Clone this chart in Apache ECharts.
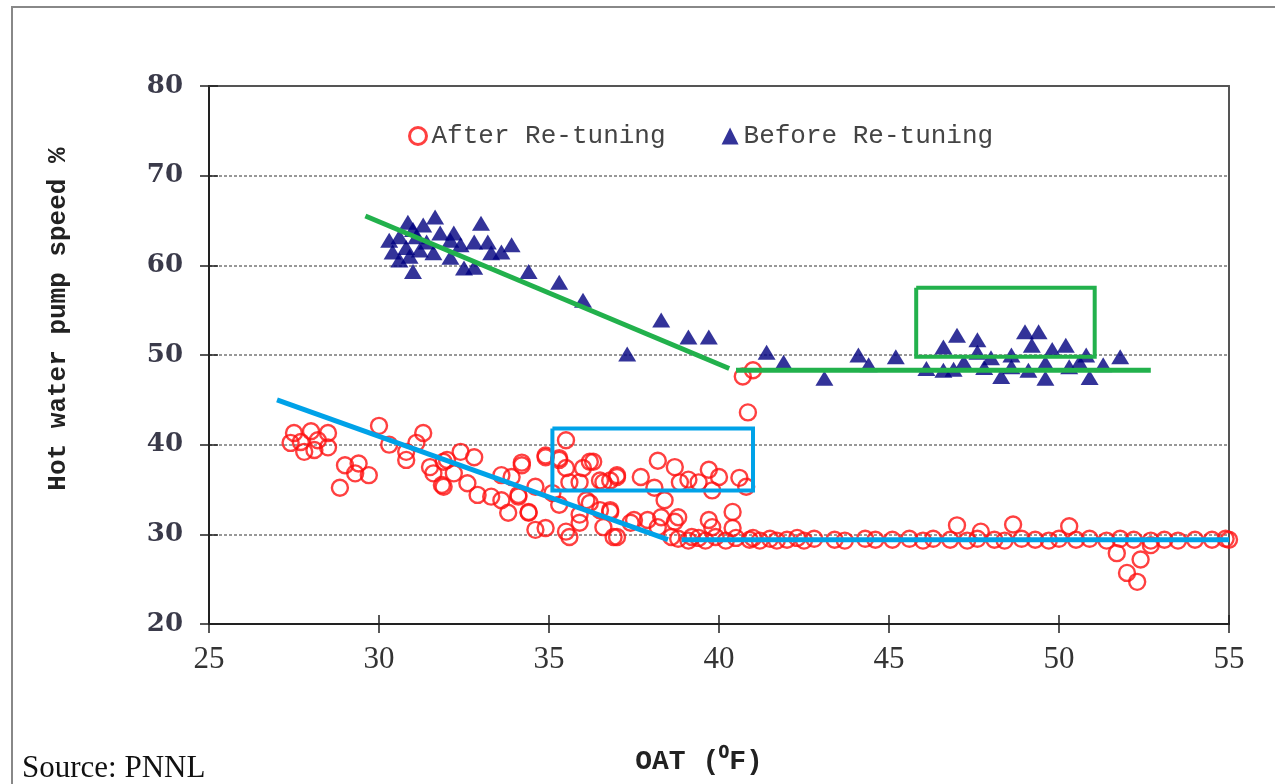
<!DOCTYPE html>
<html>
<head>
<meta charset="utf-8">
<script src="https://cdn.jsdelivr.net/npm/echarts@6/dist/echarts.min.js"></script>
<style>
html,body{margin:0;padding:0;background:#fff;}
#chart{width:1275px;height:784px;}
</style>
</head>
<body>
<div id="chart"></div>
<script>
// ---- data ----
var xTicks = [25, 30, 35, 40, 45, 50, 55];
var yTicks = [20, 30, 40, 50, 60, 70, 80];
var seriesNames = ['After Re-tuning', 'Before Re-tuning'];

var beforeRetuning = [
  [30.3,62.8],[30.85,64.8],[31.65,65.4],[33.0,64.7],[31.3,64.5],[30.4,61.5],[30.6,60.6],[31.0,59.3],
  [30.8,62.0],[31.2,61.7],[31.6,61.4],[31.8,63.6],[32.1,62.8],[32.2,63.6],[32.4,62.3],[32.5,59.7],
  [32.8,59.8],[32.8,62.6],[33.2,62.6],[33.3,61.4],[33.6,61.5],[33.9,62.3],[32.1,60.9],[30.6,63.2],
  [31.1,63.2],[30.9,61.0],[31.4,62.6],[31.0,64.0],
  [34.4,59.3],[35.3,58.1],[36.0,56.1],[37.3,50.1],[38.3,53.9],[39.1,52.0],[39.7,52.0],
  [41.4,50.3],[41.9,49.2],[43.1,47.4],[44.1,50.0],[44.4,48.9],[45.2,49.8],[46.1,48.5],[46.6,48.3],
  [46.6,50.9],[47.0,52.2],[47.2,49.2],[47.6,51.7],[47.6,50.3],[48.0,49.7],[48.3,47.6],[48.6,50.0],
  [48.6,48.7],[49.0,52.6],[49.4,52.6],[49.2,51.1],[49.1,48.3],[49.6,47.4],[49.8,50.6],[49.6,49.1],
  [50.2,51.1],[50.3,48.7],[50.8,50.0],[50.9,47.5],[51.3,48.9],[51.8,49.8],[50.6,49.2],[46.9,48.4],[47.8,48.6]
];

var afterRetuning = [
  [27.5,41.3],[28.0,41.5],[28.5,41.3],[27.4,40.2],[27.7,40.3],[28.2,40.5],[28.5,39.7],[27.8,39.2],[28.1,39.4],
  [29.0,37.7],[29.4,37.9],[29.3,36.8],[29.7,36.6],[28.85,35.2],[30.0,42.1],[30.3,40.0],[30.8,39.2],[30.8,38.3],
  [31.3,41.3],[31.1,40.2],[31.5,37.5],[31.6,36.8],[31.85,35.5],[32.0,38.3],[32.2,36.8],[32.4,39.2],[32.8,38.6],
  [31.9,38.1],[31.9,35.3],[32.6,35.7],[32.9,34.4],[33.3,34.2],[33.6,36.6],[33.6,33.8],[33.9,36.4],[33.8,32.4],
  [34.2,38.0],[34.1,34.4],[34.4,32.5],[34.6,30.5],[34.9,30.7],[34.6,35.3],[35.1,34.6],[34.9,38.6],[35.5,40.5],
  [35.3,38.5],[35.5,37.4],[35.6,35.8],[35.9,35.8],[36.0,37.4],[36.3,38.1],[36.5,36.0],[35.5,30.3],[35.6,29.7],
  [35.3,33.3],[35.9,32.2],[36.1,33.8],[36.5,32.7],[36.8,36.0],[37.0,36.6],[36.8,32.7],[36.9,29.7],[37.4,31.3],
  [37.7,36.4],[34.2,37.7],[34.9,38.8],[35.3,38.3],[36.2,38.1],[36.6,35.8],[37.0,36.4],[38.2,38.2],[38.7,37.5],
  [39.1,36.1],[39.7,37.2],[39.4,35.8],[40.0,36.4],[40.6,36.3],[40.8,35.3],[38.85,35.8],[39.8,34.9],[38.1,35.2],
  [38.4,33.8],[38.3,31.9],[38.8,31.9],[38.7,31.4],[38.2,30.8],[37.9,31.6],[37.5,31.6],[36.8,32.5],[36.6,30.8],
  [36.2,33.5],[35.9,31.3],[37.0,29.7],[34.4,32.4],[34.1,34.2],[39.7,31.6],[40.4,32.5],[40.4,30.7],[39.8,30.8],
  [38.6,29.7],[39.2,29.7],[39.9,29.7],[40.5,29.6],[41.0,29.6],
  [40.7,47.6],[41.0,48.3],[40.85,43.6],
  [38.8,29.5],[39.1,29.3],[39.4,29.6],[39.6,29.3],[40.2,29.3],[40.9,29.4],[41.2,29.3],[41.5,29.5],
  [41.7,29.3],[42.0,29.4],[42.3,29.6],[42.5,29.3],[42.8,29.5],[43.4,29.4],[43.7,29.3],[44.3,29.5],[44.6,29.4],
  [45.1,29.4],[45.6,29.5],[46.0,29.3],[46.3,29.5],[46.8,29.4],[47.3,29.3],[47.6,29.5],[48.1,29.4],[48.4,29.3],
  [48.9,29.5],[49.3,29.4],[49.7,29.3],[50.0,29.5],[50.5,29.4],[50.9,29.5],[51.4,29.3],[51.8,29.5],[52.2,29.4],
  [52.7,29.3],[53.1,29.4],[53.5,29.3],[54.0,29.4],[54.5,29.4],[54.9,29.5],[55.0,29.4],
  [47.0,31.0],[47.7,30.3],[48.65,31.1],[50.3,30.9],[51.7,27.9],[52.4,27.2],[52.0,25.7],[52.3,24.7],[52.7,28.8]
];

// annotation lines and boxes
var greenSlope = [[29.6,65.5],[40.3,48.5]];
var greenFlat = [[40.5,48.3],[52.7,48.3]];
var greenBox = [[45.8,57.5],[51.05,57.5],[51.05,49.8],[45.8,49.8],[45.8,57.5]];
var blueSlope = [[27.0,45.0],[38.5,29.4]];
var blueFlat = [[38.9,29.4],[55.0,29.4]];
var blueBox = [[35.1,41.8],[41.0,41.8],[41.0,34.9],[35.1,34.9],[35.1,41.8]];

var GREEN = '#22b14c';
var CYAN = '#00a2e8';
var RED = '#ff1010';

var chart = echarts.init(document.getElementById('chart'));

function annot(data, color, width, z) {
  return {
    type: 'line', data: data, symbol: 'none', silent: true, z: z,
    lineStyle: { color: color, width: width, cap: 'butt', join: 'miter' },
    xAxisIndex: 0, yAxisIndex: 0, clip: false
  };
}

var option = {
  backgroundColor: '#fff',
  animation: false,
  grid: { left: 209, right: 46, top: 86, bottom: 160 },
  legend: {
    left: 403, top: 118,
    itemGap: 56, itemWidth: 17, itemHeight: 17,
    textStyle: { fontFamily: 'Liberation Mono', fontSize: 26, color: '#444' },
    data: [
      { name: seriesNames[0], icon: 'circle', itemStyle: { color: '#fff', borderColor: RED, borderWidth: 3 } },
      { name: seriesNames[1], icon: 'triangle', itemStyle: { color: '#000080' } }
    ]
  },
  xAxis: [
    {
      type: 'value', min: xTicks[0], max: xTicks[xTicks.length - 1], interval: 5,
      name: 'OAT (\u2070F)', nameLocation: 'middle', nameGap: 124,
      nameTextStyle: { fontFamily: 'Liberation Mono', fontWeight: 'bold', fontSize: 28, color: '#222', padding: [0, 40, 0, 0] },
      axisLine: { show: true, lineStyle: { color: '#222', width: 2 } },
      axisTick: { show: true, inside: false, length: 9, lineStyle: { color: '#222', width: 1.5 } },
      axisLabel: { margin: 20, fontFamily: 'Liberation Serif', fontSize: 31, color: '#333' },
      splitLine: { show: false }
    },
    {
      type: 'value', min: xTicks[0], max: xTicks[xTicks.length - 1], interval: 5, position: 'bottom',
      axisLine: { show: false },
      axisTick: { show: true, inside: true, length: 9, lineStyle: { color: '#222', width: 1.5 } },
      axisLabel: { show: false }, splitLine: { show: false }
    },
    {
      type: 'value', min: xTicks[0], max: xTicks[xTicks.length - 1], position: 'top',
      axisLine: { show: true, lineStyle: { color: '#555', width: 2 } },
      axisTick: { show: false }, axisLabel: { show: false }, splitLine: { show: false }
    }
  ],
  yAxis: [
    {
      type: 'value', min: yTicks[0], max: yTicks[yTicks.length - 1], interval: 10,
      name: 'Hot water pump speed %', nameLocation: 'middle', nameGap: 138, nameRotate: 90,
      nameTextStyle: { fontFamily: 'Liberation Mono', fontWeight: 'bold', fontSize: 26, color: '#222', padding: [0, 0, 0, 72] },
      axisLine: { show: true, lineStyle: { color: '#222', width: 2 } },
      axisTick: { show: true, inside: false, length: 9, lineStyle: { color: '#222', width: 1.5 } },
      axisLabel: { margin: 26, fontFamily: 'DejaVu Serif', fontWeight: 'bold', fontSize: 26, color: '#3a3a4a' },
      splitLine: { show: true, showMinLine: false, showMaxLine: false, lineStyle: { color: '#777', type: [3, 2], width: 1.5 } }
    },
    {
      type: 'value', min: yTicks[0], max: yTicks[yTicks.length - 1], interval: 10, position: 'left',
      axisLine: { show: false },
      axisTick: { show: true, inside: true, length: 9, lineStyle: { color: '#222', width: 1.5 } },
      axisLabel: { show: false }, splitLine: { show: false }
    },
    {
      type: 'value', min: yTicks[0], max: yTicks[yTicks.length - 1], position: 'right',
      axisLine: { show: true, lineStyle: { color: '#555', width: 2 } },
      axisTick: { show: false }, axisLabel: { show: false }, splitLine: { show: false }
    }
  ],
  graphic: [
    { type: 'rect', shape: { x: 12, y: 7, width: 1400, height: 900 }, style: { fill: 'none', stroke: '#888', lineWidth: 2 }, z: -10, silent: true },
    { type: 'text', left: 22, top: 753, style: { text: 'Source: PNNL', fontFamily: 'Liberation Serif', fontSize: 31, fill: '#111' } }
  ],
  series: [
    {
      name: seriesNames[0], type: 'scatter', data: afterRetuning, clip: false,
      symbol: 'circle', symbolSize: 16, z: 2,
      itemStyle: { color: 'rgba(255,255,255,0)', borderColor: RED, borderWidth: 2.4 }
    },
    {
      name: seriesNames[1], type: 'scatter', data: beforeRetuning, clip: false,
      symbol: 'triangle', symbolSize: [18, 15], z: 3,
      itemStyle: { color: '#000080' }
    },
    annot(greenSlope, GREEN, 5, 5),
    annot(greenFlat, GREEN, 5, 5),
    annot(greenBox, GREEN, 4, 5),
    annot(blueSlope, CYAN, 5, 5),
    annot(blueFlat, CYAN, 5, 5),
    annot(blueBox, CYAN, 4, 5)
  ]
};
chart.setOption(option);
</script>
</body>
</html>
